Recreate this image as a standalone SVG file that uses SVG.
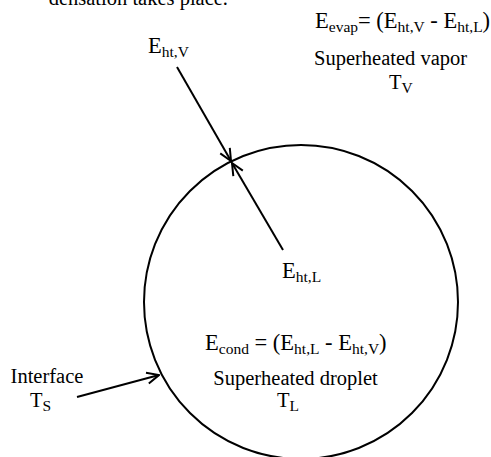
<svg xmlns="http://www.w3.org/2000/svg" width="491" height="457" viewBox="0 0 491 457" font-family="'Liberation Serif', 'DejaVu Serif', serif">
<style>
text{font-family:'Liberation Serif','DejaVu Serif',serif;fill:#000;font-size:20.5px}
.eq{font-size:22.5px}
.sub{font-size:15.5px}
.ln{stroke:#000;stroke-width:2;fill:none}
</style>
<defs>
<marker id="ah" markerWidth="14" markerHeight="14" refX="13" refY="7" orient="auto" markerUnits="userSpaceOnUse">
<path d="M1,1.5 L13,7 L1,12.5" fill="none" stroke="#000" stroke-width="2"/>
</marker>
</defs>
<text x="228" y="5" font-size="26" text-anchor="end">densation takes place.</text>
<g id="droplet">
<circle class="ln" cx="301" cy="302" r="157"/>
</g>
<g id="vapor-label">
<text class="eq" x="315" y="28">E<tspan class="sub" dy="4">evap</tspan><tspan dy="-4">= (E</tspan><tspan class="sub" dy="4">ht,V</tspan><tspan dy="-4"> - E</tspan><tspan class="sub" dy="4">ht,L</tspan><tspan dy="-4">)</tspan></text>
<text x="314" y="65" font-size="21.5">Superheated vapor</text>
<text x="389" y="89">T<tspan class="sub" dy="4">V</tspan></text>
</g>
<g id="eht-v">
<text class="eq" x="148" y="53">E<tspan class="sub" dy="4">ht,V</tspan></text>
</g>
<g id="eht-l">
<text class="eq" x="282" y="278">E<tspan class="sub" dy="4">ht,L</tspan></text>
</g>
<g id="droplet-label">
<text class="eq" x="205" y="350">E<tspan class="sub" dy="4">cond</tspan><tspan dy="-4"> = (E</tspan><tspan class="sub" dy="4">ht,L</tspan><tspan dy="-4"> - E</tspan><tspan class="sub" dy="4">ht,V</tspan><tspan dy="-4">)</tspan></text>
<text x="295.5" y="385" text-anchor="middle">Superheated droplet</text>
<text x="277" y="407">T<tspan class="sub" dy="4">L</tspan></text>
</g>
<g id="interface">
<text x="47" y="383" text-anchor="middle">Interface</text>
<text x="30" y="407">T<tspan class="sub" dy="4">S</tspan></text>
</g>
<g id="connectors">
<line class="ln" x1="177" y1="67" x2="231" y2="161" marker-end="url(#ah)"/>
<line class="ln" x1="283" y1="250" x2="232" y2="163" marker-end="url(#ah)"/>
<line class="ln" x1="77" y1="397" x2="159" y2="375" marker-end="url(#ah)"/>
</g>
</svg>
